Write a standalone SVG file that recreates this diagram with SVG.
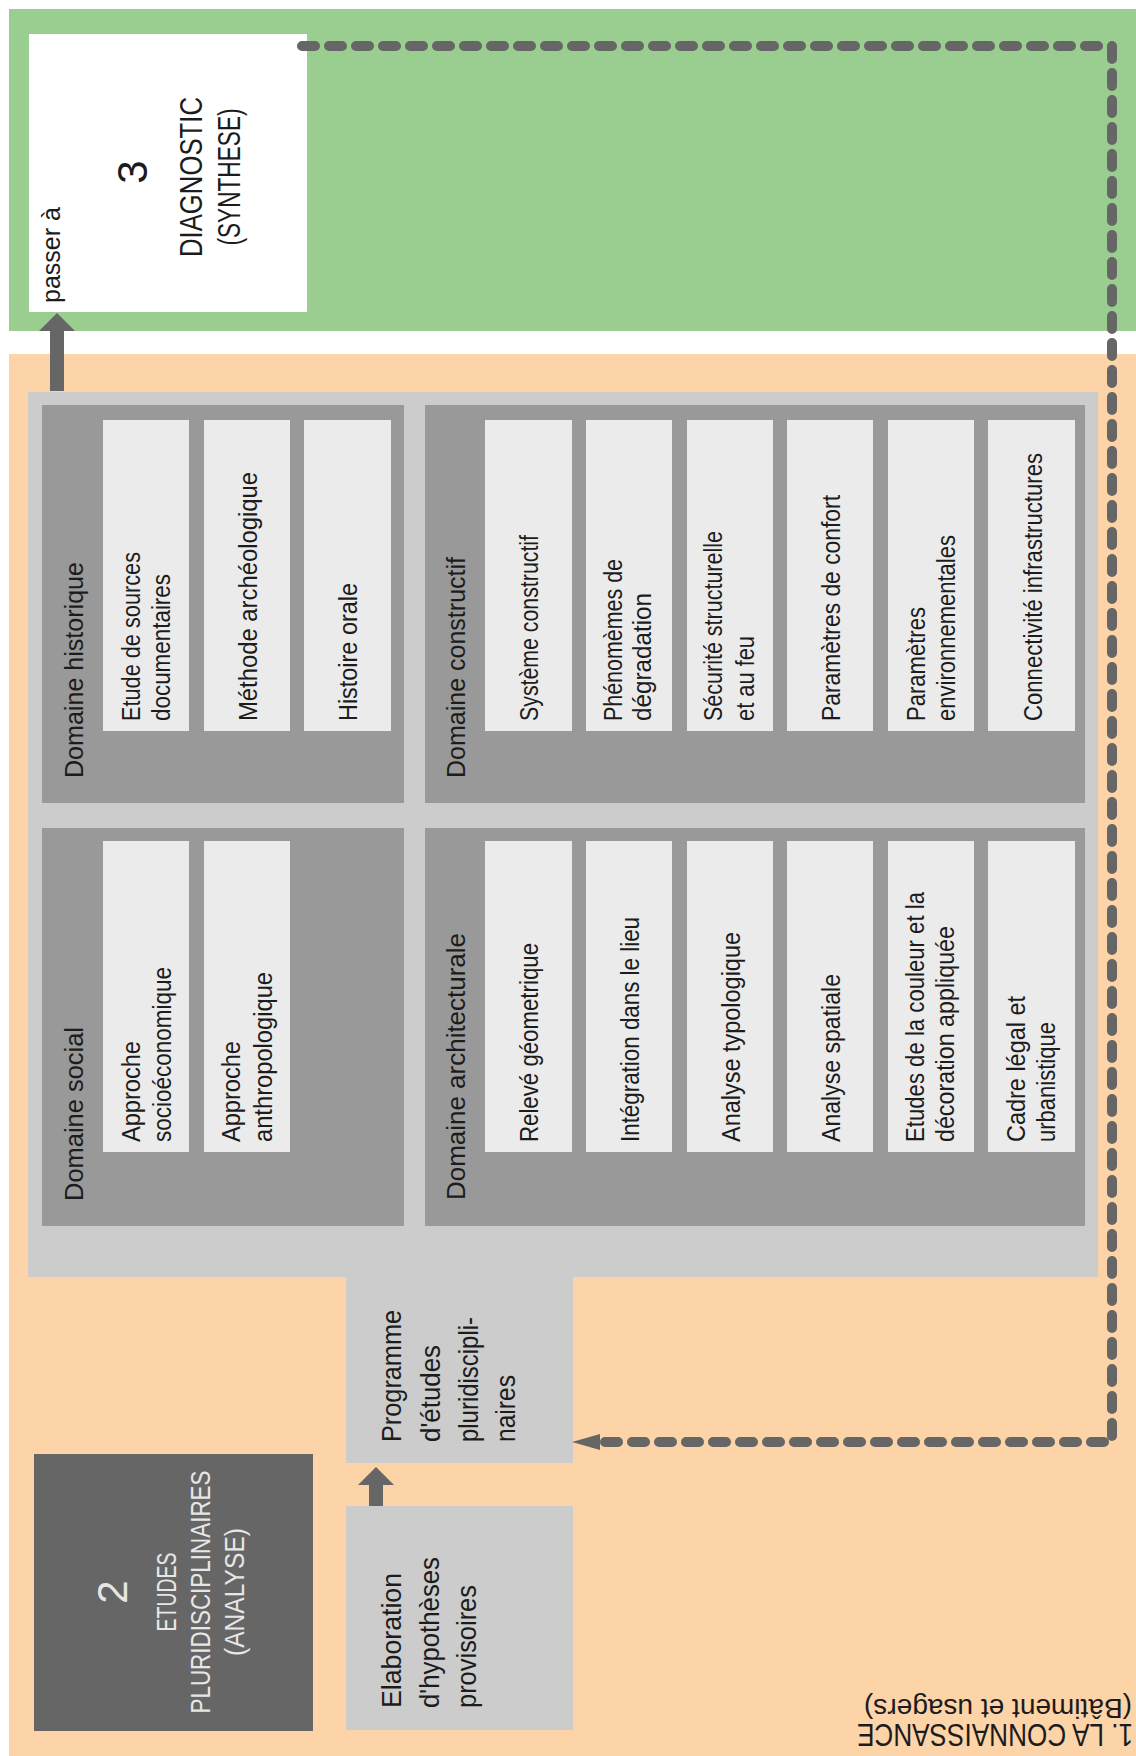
<svg xmlns="http://www.w3.org/2000/svg" width="1136" height="1756" viewBox="0 0 1136 1756">
<style>
  text { font-family: "Liberation Sans", Arial, sans-serif; fill: #1c1c1c; }
  .it { font-size: 25px; }
  .dt { font-size: 26px; }
  .big { font-size: 32px; }
  .num { font-size: 42px; }
  .pr { font-size: 28px; }
  .light { fill: #e6e6e6; }
  .item { fill: #ebebeb; }
  .dom { fill: #999999; }
  .outer { fill: #cccccc; }
  .box { fill: #cccccc; }
  .dash { fill: none; stroke: #666666; stroke-width: 10; stroke-dasharray: 13 14; stroke-linecap: round; stroke-linejoin: round; }
  .solid { fill: none; stroke: #666666; stroke-width: 14; }
</style>
<defs>
  <marker id="headSolid" markerUnits="userSpaceOnUse" viewBox="0 0 18 36" refX="0" refY="18" markerWidth="18" markerHeight="36" orient="auto">
    <path d="M0,0 L18,18 L0,36 Z" fill="#666666"/>
  </marker>
  <marker id="headDash" markerUnits="userSpaceOnUse" viewBox="0 0 28 16" refX="0" refY="8" markerWidth="28" markerHeight="16" orient="auto">
    <path d="M0,0 L28,8 L0,16 Z" fill="#666666"/>
  </marker>
</defs>

<rect x="0" y="0" width="1136" height="1756" fill="#ffffff"/>
<rect id="zone-diagnostic" x="9" y="9" width="1127" height="322" fill="#9ace91"/>
<rect id="zone-connaissance" x="9" y="354" width="1127" height="1402" fill="#fdd3a8"/>

<g id="node-diagnostic">
  <rect x="29" y="34" width="278" height="278" fill="#ffffff"/>
  <text class="num" text-anchor="middle" transform="translate(147,172) rotate(-90)">3</text>
  <text class="big" text-anchor="middle" textLength="160" lengthAdjust="spacingAndGlyphs" transform="translate(202,177) rotate(-90)">DIAGNOSTIC</text>
  <text class="big" text-anchor="middle" textLength="137" lengthAdjust="spacingAndGlyphs" transform="translate(240,177) rotate(-90)">(SYNTHESE)</text>
  <text class="it" textLength="96" lengthAdjust="spacingAndGlyphs" transform="translate(60,303) rotate(-90)">passer à</text>
</g>

<g id="node-programme">
  <path class="outer" d="M28 392 H1098 V1277 H573 V1463 H346 V1277 H28 Z"/>
  <text class="pr" textLength="132" lengthAdjust="spacingAndGlyphs" transform="translate(401,1442) rotate(-90)">Programme</text>
  <text class="pr" textLength="97" lengthAdjust="spacingAndGlyphs" transform="translate(440,1442) rotate(-90)">d'études</text>
  <text class="pr" textLength="125" lengthAdjust="spacingAndGlyphs" transform="translate(478,1442) rotate(-90)">pluridiscipli-</text>
  <text class="pr" textLength="67" lengthAdjust="spacingAndGlyphs" transform="translate(515,1442) rotate(-90)">naires</text>
</g>

<g id="node-domaine-historique">
  <rect class="dom" x="42" y="405" width="362" height="398"/>
  <text class="dt" textLength="216" lengthAdjust="spacingAndGlyphs" transform="translate(83,778) rotate(-90)">Domaine historique</text>
  <g id="item-etude-sources">
    <rect class="item" x="103" y="420" width="86" height="311"/>
    <text class="it" textLength="169" lengthAdjust="spacingAndGlyphs" transform="translate(140,721) rotate(-90)">Etude de sources</text>
    <text class="it" textLength="147" lengthAdjust="spacingAndGlyphs" transform="translate(170,721) rotate(-90)">documentaires</text>
  </g>
  <g id="item-methode-archeologique">
    <rect class="item" x="204" y="420" width="86" height="311"/>
    <text class="it" textLength="249" lengthAdjust="spacingAndGlyphs" transform="translate(257,721) rotate(-90)">Méthode archéologique</text>
  </g>
  <g id="item-histoire-orale">
    <rect class="item" x="304" y="420" width="87" height="311"/>
    <text class="it" textLength="138" lengthAdjust="spacingAndGlyphs" transform="translate(357,721) rotate(-90)">Histoire orale</text>
  </g>
</g>

<g id="node-domaine-social">
  <rect class="dom" x="42" y="828" width="362" height="398"/>
  <text class="dt" textLength="174" lengthAdjust="spacingAndGlyphs" transform="translate(83,1201) rotate(-90)">Domaine social</text>
  <g id="item-approche-socioeconomique">
    <rect class="item" x="103" y="841" width="86" height="311"/>
    <text class="it" textLength="101" lengthAdjust="spacingAndGlyphs" transform="translate(140,1142) rotate(-90)">Approche</text>
    <text class="it" textLength="175" lengthAdjust="spacingAndGlyphs" transform="translate(171,1142) rotate(-90)">socioéconomique</text>
  </g>
  <g id="item-approche-anthropologique">
    <rect class="item" x="204" y="841" width="86" height="311"/>
    <text class="it" textLength="101" lengthAdjust="spacingAndGlyphs" transform="translate(240,1142) rotate(-90)">Approche</text>
    <text class="it" textLength="170" lengthAdjust="spacingAndGlyphs" transform="translate(272,1142) rotate(-90)">anthropologique</text>
  </g>
</g>

<g id="node-domaine-constructif">
  <rect class="dom" x="425" y="405" width="660" height="398"/>
  <text class="dt" textLength="221" lengthAdjust="spacingAndGlyphs" transform="translate(465,778) rotate(-90)">Domaine constructif</text>
  <g id="item-systeme-constructif">
    <rect class="item" x="485" y="420" width="87" height="311"/>
    <text class="it" textLength="186" lengthAdjust="spacingAndGlyphs" transform="translate(538,721) rotate(-90)">Système constructif</text>
  </g>
  <g id="item-phenomenes-degradation">
    <rect class="item" x="586" y="420" width="86" height="311"/>
    <text class="it" textLength="162" lengthAdjust="spacingAndGlyphs" transform="translate(622,721) rotate(-90)">Phénomèmes de</text>
    <text class="it" textLength="128" lengthAdjust="spacingAndGlyphs" transform="translate(651,721) rotate(-90)">dégradation</text>
  </g>
  <g id="item-securite">
    <rect class="item" x="687" y="420" width="86" height="311"/>
    <text class="it" textLength="190" lengthAdjust="spacingAndGlyphs" transform="translate(722,721) rotate(-90)">Sécurité structurelle</text>
    <text class="it" textLength="85" lengthAdjust="spacingAndGlyphs" transform="translate(754,721) rotate(-90)">et au feu</text>
  </g>
  <g id="item-parametres-confort">
    <rect class="item" x="787" y="420" width="86" height="311"/>
    <text class="it" textLength="226" lengthAdjust="spacingAndGlyphs" transform="translate(840,721) rotate(-90)">Paramètres de confort</text>
  </g>
  <g id="item-parametres-environnementales">
    <rect class="item" x="888" y="420" width="86" height="311"/>
    <text class="it" textLength="114" lengthAdjust="spacingAndGlyphs" transform="translate(925,721) rotate(-90)">Paramètres</text>
    <text class="it" textLength="186" lengthAdjust="spacingAndGlyphs" transform="translate(955,721) rotate(-90)">environnementales</text>
  </g>
  <g id="item-connectivite">
    <rect class="item" x="988" y="420" width="87" height="311"/>
    <text class="it" textLength="268" lengthAdjust="spacingAndGlyphs" transform="translate(1042,721) rotate(-90)">Connectivité infrastructures</text>
  </g>
</g>

<g id="node-domaine-architecturale">
  <rect class="dom" x="425" y="828" width="660" height="398"/>
  <text class="dt" textLength="267" lengthAdjust="spacingAndGlyphs" transform="translate(465,1200) rotate(-90)">Domaine architecturale</text>
  <g id="item-releve">
    <rect class="item" x="485" y="841" width="87" height="311"/>
    <text class="it" textLength="199" lengthAdjust="spacingAndGlyphs" transform="translate(538,1142) rotate(-90)">Relevé géometrique</text>
  </g>
  <g id="item-integration">
    <rect class="item" x="586" y="841" width="86" height="311"/>
    <text class="it" textLength="225" lengthAdjust="spacingAndGlyphs" transform="translate(639,1142) rotate(-90)">Intégration dans le lieu</text>
  </g>
  <g id="item-typologique">
    <rect class="item" x="687" y="841" width="86" height="311"/>
    <text class="it" textLength="210" lengthAdjust="spacingAndGlyphs" transform="translate(740,1142) rotate(-90)">Analyse typologique</text>
  </g>
  <g id="item-spatiale">
    <rect class="item" x="787" y="841" width="86" height="311"/>
    <text class="it" textLength="168" lengthAdjust="spacingAndGlyphs" transform="translate(840,1142) rotate(-90)">Analyse spatiale</text>
  </g>
  <g id="item-couleur">
    <rect class="item" x="888" y="841" width="86" height="311"/>
    <text class="it" textLength="250" lengthAdjust="spacingAndGlyphs" transform="translate(924,1142) rotate(-90)">Etudes de la couleur et la</text>
    <text class="it" textLength="216" lengthAdjust="spacingAndGlyphs" transform="translate(954,1142) rotate(-90)">décoration appliquée</text>
  </g>
  <g id="item-cadre-legal">
    <rect class="item" x="988" y="841" width="87" height="311"/>
    <text class="it" textLength="146" lengthAdjust="spacingAndGlyphs" transform="translate(1025,1142) rotate(-90)">Cadre légal et</text>
    <text class="it" textLength="120" lengthAdjust="spacingAndGlyphs" transform="translate(1055,1142) rotate(-90)">urbanistique</text>
  </g>
</g>

<g id="node-etudes">
  <rect x="34" y="1454" width="279" height="277" fill="#666666"/>
  <text class="num light" text-anchor="middle" transform="translate(127,1592) rotate(-90)">2</text>
  <text class="pr light" text-anchor="middle" textLength="79" lengthAdjust="spacingAndGlyphs" transform="translate(176,1592) rotate(-90)">ETUDES</text>
  <text class="pr light" text-anchor="middle" textLength="243" lengthAdjust="spacingAndGlyphs" transform="translate(210,1592) rotate(-90)">PLURIDISCIPLINAIRES</text>
  <text class="pr light" text-anchor="middle" textLength="128" lengthAdjust="spacingAndGlyphs" transform="translate(244,1592) rotate(-90)">(ANALYSE)</text>
</g>

<g id="node-elaboration">
  <rect class="box" x="346" y="1506" width="227" height="224"/>
  <text class="pr" textLength="135" lengthAdjust="spacingAndGlyphs" transform="translate(401,1708) rotate(-90)">Elaboration</text>
  <text class="pr" textLength="151" lengthAdjust="spacingAndGlyphs" transform="translate(439,1708) rotate(-90)">d'hypothèses</text>
  <text class="pr" textLength="123" lengthAdjust="spacingAndGlyphs" transform="translate(476,1708) rotate(-90)">provisoires</text>
</g>

<g id="node-connaissance-title">
  <text class="big" text-anchor="end" textLength="276" lengthAdjust="spacingAndGlyphs" transform="translate(857,1724) rotate(180)">1. LA CONNAISSANCE</text>
  <text class="pr" text-anchor="end" textLength="268" lengthAdjust="spacingAndGlyphs" transform="translate(864,1699) rotate(180)">(Bâtiment et usagers)</text>
</g>

<g id="connectors">
  <path class="solid" d="M57 391 V331" marker-end="url(#headSolid)"/>
  <path class="solid" d="M376 1506 V1485" marker-end="url(#headSolid)"/>
  <path class="dash" d="M302 46 H1112 V1442 H600" marker-end="url(#headDash)"/>
</g>
</svg>
